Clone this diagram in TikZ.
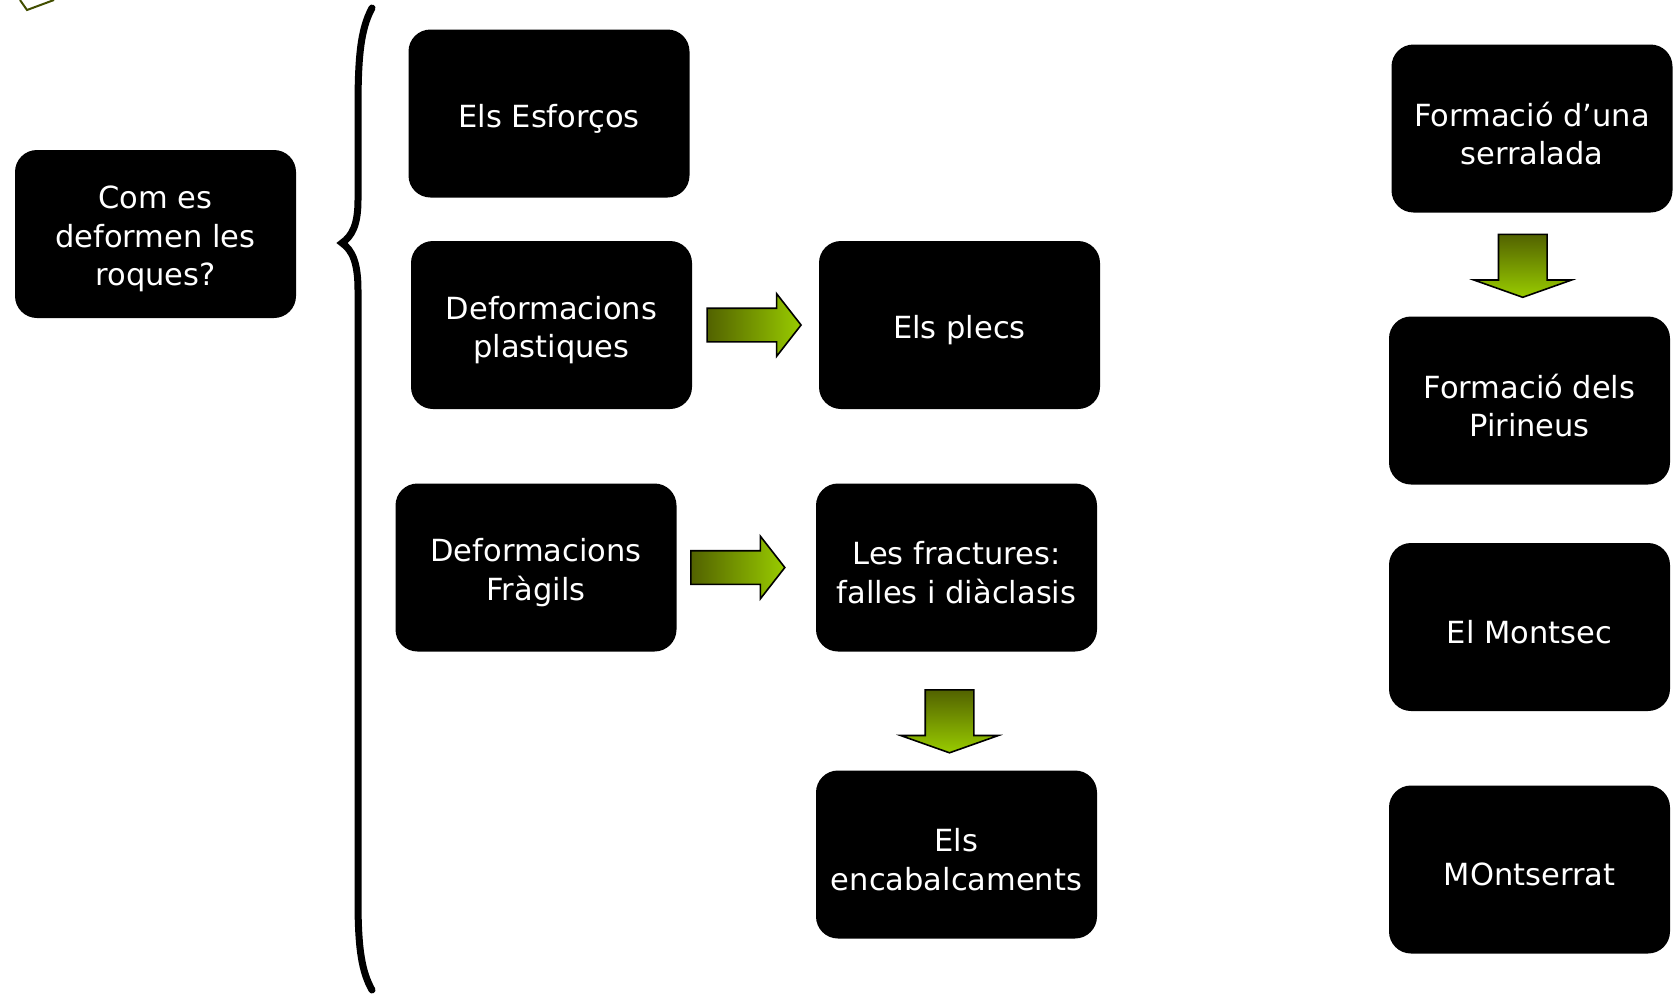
\documentclass[tikz,border=0pt]{standalone}
\usepackage{fontspec}
\setmainfont{DejaVu Sans}
\usetikzlibrary{shapes.arrows,calc}
\definecolor{olivedark}{RGB}{82,98,0}
\definecolor{limegreen}{RGB}{153,204,0}
\begin{document}
\begin{tikzpicture}[x=1pt,y=-1pt,thick,
  topic/.style={fill=black,rounded corners=22pt,
    minimum width=281pt,minimum height=168pt,inner sep=0pt},
  topictext/.style={text=white,align=center,yshift=-5pt,inner sep=0pt,
    font={\fontsize{30.5}{38.5}\selectfont}},
  rightarrow/.style={single arrow,draw=black,line width=1.6pt,inner sep=16pt,
    minimum height=94pt,single arrow head extend=14.5pt,
    single arrow tip angle=104,left color=olivedark,right color=limegreen},
  downarrow/.style={single arrow,shape border rotate=270,draw=black,line width=1.6pt,
    inner sep=23.5pt,minimum height=63pt,
    single arrow head extend=24.5pt,single arrow tip angle=141,
    top color=olivedark,bottom color=limegreen}]
\useasboundingbox (0,0) rectangle (1675,993);

% left part
\node[topic,label={[topictext]center:{Com es\\deformen les\\roques?}}] (q) at (155.5,234) {};
\draw[line width=7pt,line cap=round] (372,8) .. controls (360,30) and (358,60) .. (358,110)
  -- (358,200) .. controls (358,225) and (352,236) .. (342,243)
  .. controls (352,250) and (358,262) .. (358,290)
  -- (358,900) .. controls (358,950) and (362,972) .. (372,990);
\draw[olivedark!80!black,line width=2pt] (20,0) -- (27,10) -- (54,0);

% middle part
\node[topic,label={[topictext]center:{Els Esforços}}] (esf) at (549,113.5) {};
\node[topic,label={[topictext]center:{Deformacions\\plastiques}}] (plast) at (551.5,325) {};
\node[topic,label={[topictext]center:{Els plecs}}] (plecs) at (959.5,325) {};
\node[topic,label={[topictext]center:{Deformacions\\Fràgils}}] (frag) at (536,567.5) {};
\node[topic,label={[topictext]center:{Les fractures:\\falles i diàclasis}}] (fract) at (956.5,567.5) {};
\node[topic,label={[topictext]center:{Els\\encabalcaments}}] (encab) at (956.5,854.5) {};

\node[rightarrow] (a1) at ($(plast.east)!0.5!(plecs.west)+(-8,0)$) {};
\node[rightarrow] (a2) at ($(frag.east)!0.5!(fract.west)+(-15,0)$) {};
\node[downarrow] (a3) at ($(fract.south)!0.5!(encab.north)+(-7,6)$) {};

% right part
\node[topic,label={[topictext]center:{Formació d’una\\serralada}}] (serr) at (1532,128.5) {};
\node[topic,label={[topictext]center:{Formació dels\\Pirineus}}] (pir) at (1529.5,400.5) {};
\node[topic,label={[topictext]center:{El Montsec}}] (msec) at (1529.5,627) {};
\node[topic,label={[topictext]center:{MOntserrat}}] (mont) at (1529.5,869.5) {};

\node[downarrow] (a4) at ($(serr.south)!0.5!(pir.north)+(-8,-3)$) {};
\end{tikzpicture}
\end{document}
